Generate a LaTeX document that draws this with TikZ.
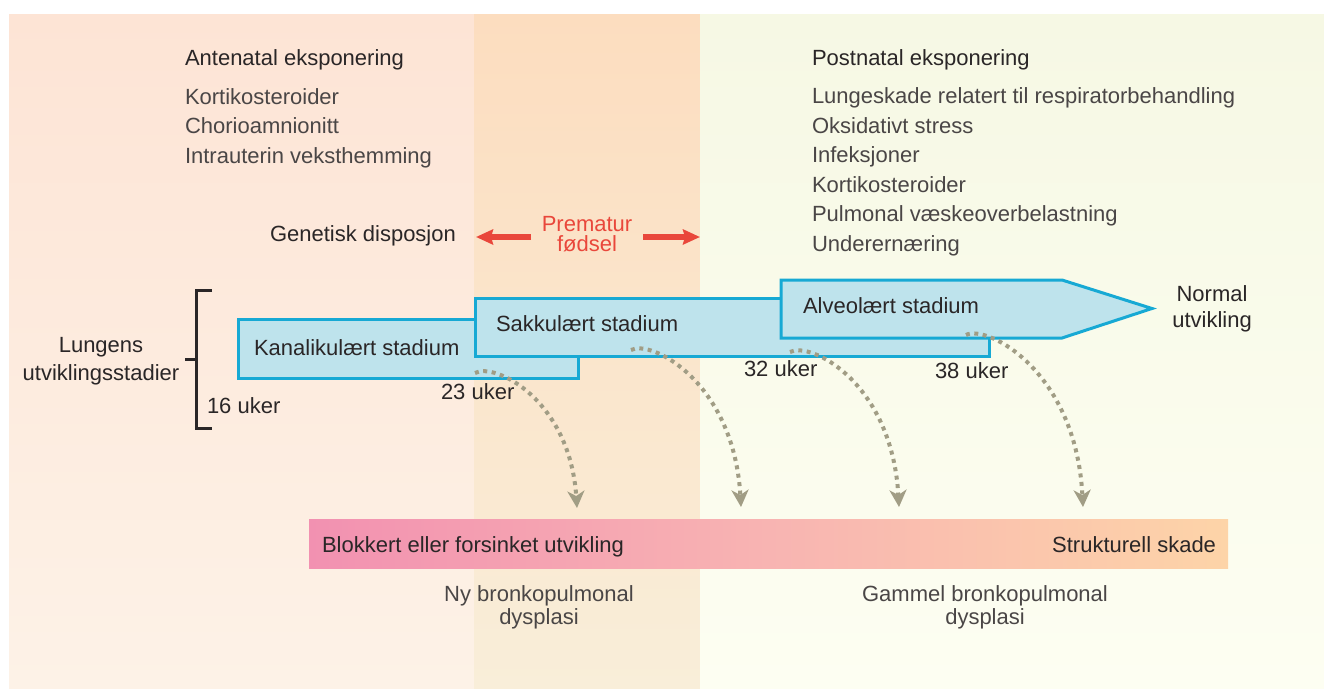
\documentclass[tikz,border=0pt]{standalone}
\usepackage{fontspec}
\setmainfont{Liberation Sans}
\usetikzlibrary{arrows.meta}
\definecolor{bgLtop}{HTML}{FDE4D5}
\definecolor{bgLbot}{HTML}{FDF2E7}
\definecolor{bgMtop}{HTML}{FCDDBF}
\definecolor{bgMbot}{HTML}{F9EED9}
\definecolor{bgRtop}{HTML}{F6F8E4}
\definecolor{bgRbot}{HTML}{FDFEF2}
\definecolor{txtdark}{HTML}{2A2627}
\definecolor{txtgray}{HTML}{4A4646}
\definecolor{redc}{HTML}{E9473B}
\definecolor{boxfill}{HTML}{BEE3EC}
\definecolor{boxline}{HTML}{17A9D4}
\definecolor{dotc}{HTML}{A19D85}
\definecolor{barL}{HTML}{F291B1}
\definecolor{barM}{HTML}{F8B4B2}
\definecolor{barR}{HTML}{FDD4A8}
\tikzset{
  lbl/.style={inner sep=0pt, outer sep=0pt, font=\fontsize{22}{26}\selectfont, text=txtdark},
  item/.style={lbl, text=txtgray},
  stagebox/.style={draw=boxline, fill=boxfill, line width=3pt, line join=miter},
  dotarrow/.style={draw=dotc, line width=4pt, dash pattern=on 4pt off 4.5pt,
    -{Stealth[length=17pt,width=17pt,inset=5pt,fill=dotc]}},
  redarrow/.style={draw=redc, line width=5.5pt, -{Stealth[length=17pt,width=15pt,inset=2pt,fill=redc]}},
  brack/.style={draw=txtdark, line width=3pt, line join=miter},
}
\begin{document}
\begin{tikzpicture}[x=1pt,y=-1pt]
\useasboundingbox (0,0) rectangle (1324,688);
\fill[white] (0,0) rectangle (1324,688);
% background columns
\shade[top color=bgLtop, bottom color=bgLbot] (9,14) rectangle (474,688);
\shade[top color=bgMtop, bottom color=bgMbot] (474,14) rectangle (700,688);
\shade[top color=bgRtop, bottom color=bgRbot] (700,14) rectangle (1324,688);

% antenatal
\node[lbl, anchor=base west] (ante) at (185,65) {Antenatal eksponering};
\node[item, anchor=base west] (a1) at (185,104) {Kortikosteroider};
\node[item, anchor=base west] (a2) at (185,133.5) {Chorioamnionitt};
\node[item, anchor=base west] (a3) at (185,163) {Intrauterin veksthemming};

% postnatal
\node[lbl, anchor=base west] (post) at (812,65) {Postnatal eksponering};
\node[item, anchor=base west] (p1) at (812,103.5) {Lungeskade relatert til respiratorbehandling};
\node[item, anchor=base west] (p2) at (812,133) {Oksidativt stress};
\node[item, anchor=base west] (p3) at (812,162.5) {Infeksjoner};
\node[item, anchor=base west] (p4) at (812,192) {Kortikosteroider};
\node[item, anchor=base west] (p5) at (812,221.5) {Pulmonal væskeoverbelastning};
\node[item, anchor=base west] (p6) at (812,251) {Underernæring};

% genetic + premature
\node[lbl, anchor=base west] (gen) at (270,241) {Genetisk disposjon};
\node[lbl, text=redc, anchor=base] (prem1) at (587,231) {Prematur};
\node[lbl, text=redc, anchor=base] (prem2) at (587,251.5) {fødsel};
\coordinate (rl1) at (531,237);
\coordinate (rl2) at (476,237);
\coordinate (rr1) at (643,237);
\coordinate (rr2) at (700,237);
\draw[redarrow] (rl1) -- (rl2);
\draw[redarrow] (rr1) -- (rr2);

% bracket
\coordinate (bt) at (212,290);
\coordinate (btc) at (196,290);
\coordinate (bbc) at (196,428);
\coordinate (bb) at (212,428);
\coordinate (bm) at (196,359);
\coordinate (bml) at (185,359);
\draw[brack] (bt) -- (btc) -- (bbc) -- (bb);
\draw[brack] (bm) -- (bml);
\node[lbl, anchor=base] (lung1) at (101,352) {Lungens};
\node[lbl, anchor=base] (lung2) at (101,380) {utviklingsstadier};
\node[lbl, anchor=base west] (w16) at (207,413) {16 uker};

% stage boxes
\draw[stagebox] (238,319) rectangle (578,378);
\draw[stagebox] (475,298) rectangle (989,356);
\draw[stagebox] (781,280) -- (1062,280) -- (1152,308.5) -- (1062,338) -- (781,338) -- cycle;
\node[lbl, anchor=base west] (kan) at (254,355.5) {Kanalikulært stadium};
\node[lbl, anchor=base west] (sak) at (496,331.5) {Sakkulært stadium};
\node[lbl, anchor=base west] (alv) at (803,313) {Alveolært stadium};
\node[lbl, anchor=base] (norm1) at (1212,301) {Normal};
\node[lbl, anchor=base] (norm2) at (1212,327) {utvikling};
\node[lbl, anchor=base west] (w23) at (441,399) {23 uker};
\node[lbl, anchor=base west] (w32) at (744,376) {32 uker};
\node[lbl, anchor=base west] (w38) at (935,378) {38 uker};

% dotted arrows
\coordinate (d1s) at (475,373); \coordinate (d1e) at (577,508);
\coordinate (d2s) at (631,350); \coordinate (d2e) at (741,507);
\coordinate (d3s) at (790,352); \coordinate (d3e) at (899,507);
\coordinate (d4s) at (966,335); \coordinate (d4e) at (1083,507);
\draw[dotarrow] (d1s) .. controls (495,362) and (570,400) .. (d1e);
\draw[dotarrow] (d2s) .. controls (651,339) and (734,382) .. (d2e);
\draw[dotarrow] (d3s) .. controls (810,341) and (892,382) .. (d3e);
\draw[dotarrow] (d4s) .. controls (986,324) and (1076,370) .. (d4e);

% bottom bar
\shade[left color=barL, right color=barR, middle color=barM] (309,519) rectangle (1228,568);
\node[lbl, anchor=base west] (blk) at (322,552) {Blokkert eller forsinket utvikling};
\node[lbl, anchor=base east] (str) at (1216,552) {Strukturell skade};
\node[item, anchor=base] (ny1) at (539,601.5) {Ny bronkopulmonal};
\node[item, anchor=base] (ny2) at (539,624) {dysplasi};
\node[item, anchor=base] (gm1) at (985,601.5) {Gammel bronkopulmonal};
\node[item, anchor=base] (gm2) at (985,624) {dysplasi};
\end{tikzpicture}
\end{document}
